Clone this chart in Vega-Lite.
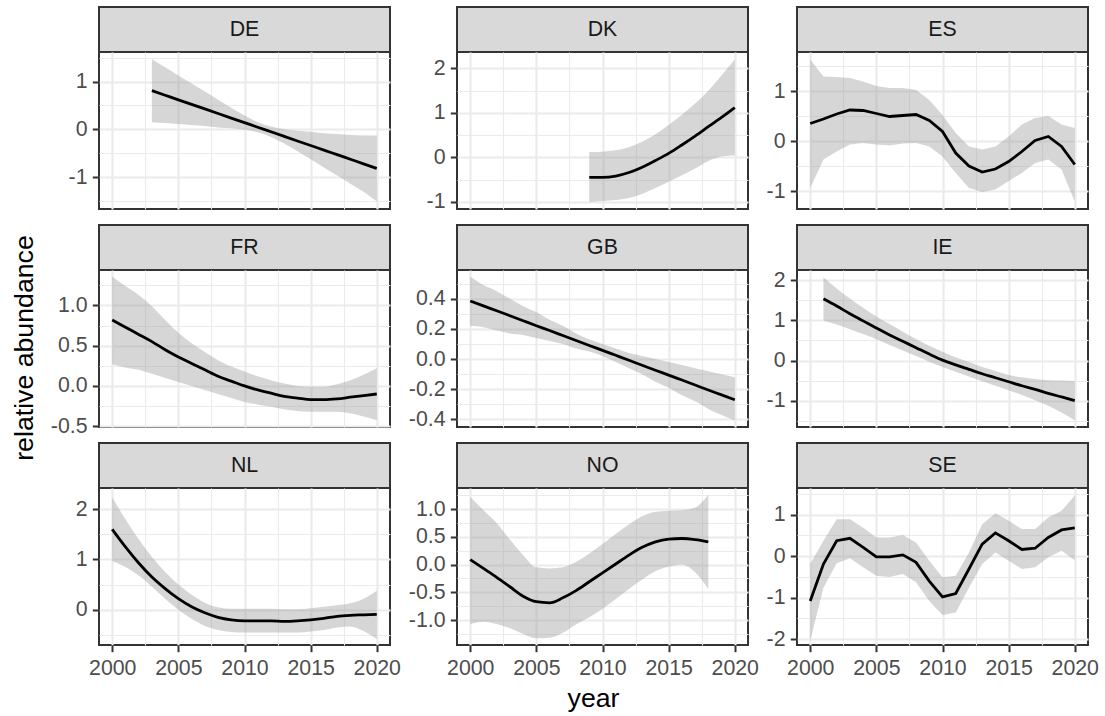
{
"$schema": "https://vega.github.io/schema/vega-lite/v6.json",
"padding": {"left": 5, "top": 6, "right": 5, "bottom": 0},
"background": "white",
"datasets": {"sm": [
{"c":"DE","year":2003,"fit":0.81,"lo":0.15,"hi":1.47},
{"c":"DE","year":2004,"fit":0.714,"lo":0.13,"hi":1.30},
{"c":"DE","year":2005,"fit":0.618,"lo":0.11,"hi":1.13},
{"c":"DE","year":2006,"fit":0.523,"lo":0.09,"hi":0.96},
{"c":"DE","year":2007,"fit":0.427,"lo":0.07,"hi":0.79},
{"c":"DE","year":2008,"fit":0.331,"lo":0.04,"hi":0.62},
{"c":"DE","year":2009,"fit":0.235,"lo":0.02,"hi":0.45},
{"c":"DE","year":2010,"fit":0.139,"lo":-0.01,"hi":0.29},
{"c":"DE","year":2011,"fit":0.044,"lo":-0.06,"hi":0.15},
{"c":"DE","year":2012,"fit":-0.052,"lo":-0.16,"hi":0.06},
{"c":"DE","year":2013,"fit":-0.148,"lo":-0.30,"hi":0.00},
{"c":"DE","year":2014,"fit":-0.244,"lo":-0.46,"hi":-0.03},
{"c":"DE","year":2015,"fit":-0.340,"lo":-0.63,"hi":-0.05},
{"c":"DE","year":2016,"fit":-0.435,"lo":-0.80,"hi":-0.08},
{"c":"DE","year":2017,"fit":-0.531,"lo":-0.97,"hi":-0.10},
{"c":"DE","year":2018,"fit":-0.627,"lo":-1.14,"hi":-0.12},
{"c":"DE","year":2019,"fit":-0.723,"lo":-1.31,"hi":-0.13},
{"c":"DE","year":2020,"fit":-0.82,"lo":-1.51,"hi":-0.13},
{"c":"DK","year":2009,"fit":-0.45,"lo":-1.00,"hi":0.12},
{"c":"DK","year":2010,"fit":-0.45,"lo":-0.98,"hi":0.13},
{"c":"DK","year":2011,"fit":-0.42,"lo":-0.96,"hi":0.16},
{"c":"DK","year":2012,"fit":-0.34,"lo":-0.91,"hi":0.23},
{"c":"DK","year":2013,"fit":-0.22,"lo":-0.82,"hi":0.35},
{"c":"DK","year":2014,"fit":-0.07,"lo":-0.69,"hi":0.52},
{"c":"DK","year":2015,"fit":0.09,"lo":-0.55,"hi":0.73},
{"c":"DK","year":2016,"fit":0.28,"lo":-0.40,"hi":0.96},
{"c":"DK","year":2017,"fit":0.48,"lo":-0.25,"hi":1.21},
{"c":"DK","year":2018,"fit":0.69,"lo":-0.08,"hi":1.50},
{"c":"DK","year":2019,"fit":0.90,"lo":0.02,"hi":1.84},
{"c":"DK","year":2020,"fit":1.12,"lo":0.05,"hi":2.20},
{"c":"ES","year":2000,"fit":0.35,"lo":-0.94,"hi":1.63},
{"c":"ES","year":2001,"fit":0.44,"lo":-0.37,"hi":1.29},
{"c":"ES","year":2002,"fit":0.54,"lo":-0.21,"hi":1.28},
{"c":"ES","year":2003,"fit":0.62,"lo":-0.07,"hi":1.26},
{"c":"ES","year":2004,"fit":0.61,"lo":-0.04,"hi":1.19},
{"c":"ES","year":2005,"fit":0.55,"lo":-0.07,"hi":1.10},
{"c":"ES","year":2006,"fit":0.49,"lo":-0.09,"hi":1.06},
{"c":"ES","year":2007,"fit":0.51,"lo":-0.05,"hi":1.06},
{"c":"ES","year":2008,"fit":0.53,"lo":-0.04,"hi":1.02},
{"c":"ES","year":2009,"fit":0.41,"lo":-0.11,"hi":0.82},
{"c":"ES","year":2010,"fit":0.19,"lo":-0.31,"hi":0.52},
{"c":"ES","year":2011,"fit":-0.24,"lo":-0.64,"hi":0.16},
{"c":"ES","year":2012,"fit":-0.50,"lo":-0.94,"hi":-0.11},
{"c":"ES","year":2013,"fit":-0.62,"lo":-1.02,"hi":-0.17},
{"c":"ES","year":2014,"fit":-0.56,"lo":-0.97,"hi":-0.11},
{"c":"ES","year":2015,"fit":-0.41,"lo":-0.80,"hi":0.09},
{"c":"ES","year":2016,"fit":-0.21,"lo":-0.64,"hi":0.33},
{"c":"ES","year":2017,"fit":0.01,"lo":-0.44,"hi":0.46},
{"c":"ES","year":2018,"fit":0.09,"lo":-0.37,"hi":0.50},
{"c":"ES","year":2019,"fit":-0.11,"lo":-0.57,"hi":0.33},
{"c":"ES","year":2020,"fit":-0.47,"lo":-1.21,"hi":0.26},
{"c":"FR","year":2000,"fit":0.82,"lo":0.27,"hi":1.36},
{"c":"FR","year":2001,"fit":0.73,"lo":0.23,"hi":1.24},
{"c":"FR","year":2002,"fit":0.64,"lo":0.20,"hi":1.13},
{"c":"FR","year":2003,"fit":0.55,"lo":0.15,"hi":0.99},
{"c":"FR","year":2004,"fit":0.45,"lo":0.10,"hi":0.82},
{"c":"FR","year":2005,"fit":0.36,"lo":0.05,"hi":0.66},
{"c":"FR","year":2006,"fit":0.28,"lo":0.00,"hi":0.53},
{"c":"FR","year":2007,"fit":0.20,"lo":-0.05,"hi":0.42},
{"c":"FR","year":2008,"fit":0.12,"lo":-0.10,"hi":0.32},
{"c":"FR","year":2009,"fit":0.06,"lo":-0.15,"hi":0.24},
{"c":"FR","year":2010,"fit":0.00,"lo":-0.20,"hi":0.18},
{"c":"FR","year":2011,"fit":-0.05,"lo":-0.23,"hi":0.12},
{"c":"FR","year":2012,"fit":-0.09,"lo":-0.26,"hi":0.07},
{"c":"FR","year":2013,"fit":-0.13,"lo":-0.29,"hi":0.03},
{"c":"FR","year":2014,"fit":-0.15,"lo":-0.31,"hi":0.00},
{"c":"FR","year":2015,"fit":-0.17,"lo":-0.32,"hi":-0.01},
{"c":"FR","year":2016,"fit":-0.17,"lo":-0.32,"hi":-0.01},
{"c":"FR","year":2017,"fit":-0.16,"lo":-0.32,"hi":0.02},
{"c":"FR","year":2018,"fit":-0.14,"lo":-0.34,"hi":0.07},
{"c":"FR","year":2019,"fit":-0.12,"lo":-0.38,"hi":0.14},
{"c":"FR","year":2020,"fit":-0.10,"lo":-0.425,"hi":0.22},
{"c":"GB","year":2000,"fit":0.385,"lo":0.22,"hi":0.547},
{"c":"GB","year":2001,"fit":0.352,"lo":0.21,"hi":0.49},
{"c":"GB","year":2002,"fit":0.320,"lo":0.19,"hi":0.45},
{"c":"GB","year":2003,"fit":0.287,"lo":0.17,"hi":0.40},
{"c":"GB","year":2004,"fit":0.254,"lo":0.16,"hi":0.35},
{"c":"GB","year":2005,"fit":0.221,"lo":0.14,"hi":0.31},
{"c":"GB","year":2006,"fit":0.189,"lo":0.12,"hi":0.26},
{"c":"GB","year":2007,"fit":0.156,"lo":0.10,"hi":0.22},
{"c":"GB","year":2008,"fit":0.123,"lo":0.07,"hi":0.17},
{"c":"GB","year":2009,"fit":0.090,"lo":0.05,"hi":0.13},
{"c":"GB","year":2010,"fit":0.058,"lo":0.02,"hi":0.10},
{"c":"GB","year":2011,"fit":0.025,"lo":-0.02,"hi":0.07},
{"c":"GB","year":2012,"fit":-0.008,"lo":-0.06,"hi":0.04},
{"c":"GB","year":2013,"fit":-0.041,"lo":-0.10,"hi":0.02},
{"c":"GB","year":2014,"fit":-0.074,"lo":-0.15,"hi":0.00},
{"c":"GB","year":2015,"fit":-0.106,"lo":-0.19,"hi":-0.02},
{"c":"GB","year":2016,"fit":-0.139,"lo":-0.24,"hi":-0.04},
{"c":"GB","year":2017,"fit":-0.172,"lo":-0.28,"hi":-0.06},
{"c":"GB","year":2018,"fit":-0.205,"lo":-0.33,"hi":-0.08},
{"c":"GB","year":2019,"fit":-0.237,"lo":-0.37,"hi":-0.10},
{"c":"GB","year":2020,"fit":-0.27,"lo":-0.405,"hi":-0.12},
{"c":"IE","year":2001,"fit":1.54,"lo":1.00,"hi":2.08},
{"c":"IE","year":2002,"fit":1.36,"lo":0.90,"hi":1.80},
{"c":"IE","year":2003,"fit":1.17,"lo":0.78,"hi":1.55},
{"c":"IE","year":2004,"fit":0.99,"lo":0.66,"hi":1.32},
{"c":"IE","year":2005,"fit":0.81,"lo":0.53,"hi":1.10},
{"c":"IE","year":2006,"fit":0.64,"lo":0.39,"hi":0.91},
{"c":"IE","year":2007,"fit":0.48,"lo":0.25,"hi":0.72},
{"c":"IE","year":2008,"fit":0.32,"lo":0.11,"hi":0.54},
{"c":"IE","year":2009,"fit":0.16,"lo":-0.03,"hi":0.37},
{"c":"IE","year":2010,"fit":0.01,"lo":-0.16,"hi":0.22},
{"c":"IE","year":2011,"fit":-0.11,"lo":-0.28,"hi":0.08},
{"c":"IE","year":2012,"fit":-0.22,"lo":-0.40,"hi":-0.04},
{"c":"IE","year":2013,"fit":-0.33,"lo":-0.52,"hi":-0.16},
{"c":"IE","year":2014,"fit":-0.43,"lo":-0.63,"hi":-0.26},
{"c":"IE","year":2015,"fit":-0.53,"lo":-0.74,"hi":-0.36},
{"c":"IE","year":2016,"fit":-0.63,"lo":-0.86,"hi":-0.42},
{"c":"IE","year":2017,"fit":-0.72,"lo":-0.99,"hi":-0.46},
{"c":"IE","year":2018,"fit":-0.82,"lo":-1.13,"hi":-0.49},
{"c":"IE","year":2019,"fit":-0.91,"lo":-1.30,"hi":-0.50},
{"c":"IE","year":2020,"fit":-1.00,"lo":-1.49,"hi":-0.51},
{"c":"NL","year":2000,"fit":1.60,"lo":0.97,"hi":2.23},
{"c":"NL","year":2001,"fit":1.25,"lo":0.85,"hi":1.80},
{"c":"NL","year":2002,"fit":0.93,"lo":0.68,"hi":1.40},
{"c":"NL","year":2003,"fit":0.65,"lo":0.46,"hi":1.05},
{"c":"NL","year":2004,"fit":0.42,"lo":0.22,"hi":0.75},
{"c":"NL","year":2005,"fit":0.22,"lo":0.00,"hi":0.50},
{"c":"NL","year":2006,"fit":0.06,"lo":-0.18,"hi":0.30},
{"c":"NL","year":2007,"fit":-0.06,"lo":-0.32,"hi":0.14},
{"c":"NL","year":2008,"fit":-0.15,"lo":-0.40,"hi":0.05},
{"c":"NL","year":2009,"fit":-0.20,"lo":-0.44,"hi":0.02},
{"c":"NL","year":2010,"fit":-0.22,"lo":-0.45,"hi":0.02},
{"c":"NL","year":2011,"fit":-0.22,"lo":-0.45,"hi":0.02},
{"c":"NL","year":2012,"fit":-0.22,"lo":-0.45,"hi":0.02},
{"c":"NL","year":2013,"fit":-0.23,"lo":-0.45,"hi":0.01},
{"c":"NL","year":2014,"fit":-0.22,"lo":-0.45,"hi":0.01},
{"c":"NL","year":2015,"fit":-0.20,"lo":-0.43,"hi":0.03},
{"c":"NL","year":2016,"fit":-0.17,"lo":-0.40,"hi":0.06},
{"c":"NL","year":2017,"fit":-0.13,"lo":-0.35,"hi":0.09},
{"c":"NL","year":2018,"fit":-0.11,"lo":-0.33,"hi":0.13},
{"c":"NL","year":2019,"fit":-0.10,"lo":-0.42,"hi":0.22},
{"c":"NL","year":2020,"fit":-0.09,"lo":-0.58,"hi":0.38},
{"c":"NO","year":2000,"fit":0.09,"lo":-1.07,"hi":1.22},
{"c":"NO","year":2001,"fit":-0.07,"lo":-1.03,"hi":0.98},
{"c":"NO","year":2002,"fit":-0.23,"lo":-1.07,"hi":0.75},
{"c":"NO","year":2003,"fit":-0.40,"lo":-1.15,"hi":0.45},
{"c":"NO","year":2004,"fit":-0.57,"lo":-1.25,"hi":0.17},
{"c":"NO","year":2005,"fit":-0.67,"lo":-1.33,"hi":-0.05},
{"c":"NO","year":2006,"fit":-0.69,"lo":-1.32,"hi":-0.07},
{"c":"NO","year":2007,"fit":-0.60,"lo":-1.23,"hi":-0.05},
{"c":"NO","year":2008,"fit":-0.47,"lo":-1.08,"hi":0.05},
{"c":"NO","year":2009,"fit":-0.31,"lo":-0.95,"hi":0.20},
{"c":"NO","year":2010,"fit":-0.15,"lo":-0.80,"hi":0.37},
{"c":"NO","year":2011,"fit":0.01,"lo":-0.62,"hi":0.55},
{"c":"NO","year":2012,"fit":0.17,"lo":-0.44,"hi":0.72},
{"c":"NO","year":2013,"fit":0.31,"lo":-0.27,"hi":0.87},
{"c":"NO","year":2014,"fit":0.41,"lo":-0.12,"hi":0.95},
{"c":"NO","year":2015,"fit":0.46,"lo":-0.04,"hi":0.97},
{"c":"NO","year":2016,"fit":0.47,"lo":0.00,"hi":0.98},
{"c":"NO","year":2017,"fit":0.45,"lo":-0.14,"hi":1.03},
{"c":"NO","year":2018,"fit":0.41,"lo":-0.44,"hi":1.26},
{"c":"SE","year":2000,"fit":-1.08,"lo":-2.03,"hi":-0.19},
{"c":"SE","year":2001,"fit":-0.19,"lo":-0.76,"hi":0.37},
{"c":"SE","year":2002,"fit":0.37,"lo":-0.17,"hi":0.89},
{"c":"SE","year":2003,"fit":0.43,"lo":-0.05,"hi":0.89},
{"c":"SE","year":2004,"fit":0.21,"lo":-0.27,"hi":0.68},
{"c":"SE","year":2005,"fit":-0.02,"lo":-0.47,"hi":0.45},
{"c":"SE","year":2006,"fit":-0.02,"lo":-0.50,"hi":0.45},
{"c":"SE","year":2007,"fit":0.03,"lo":-0.43,"hi":0.51},
{"c":"SE","year":2008,"fit":-0.15,"lo":-0.63,"hi":0.33},
{"c":"SE","year":2009,"fit":-0.60,"lo":-1.08,"hi":-0.11},
{"c":"SE","year":2010,"fit":-0.98,"lo":-1.42,"hi":-0.51},
{"c":"SE","year":2011,"fit":-0.90,"lo":-1.36,"hi":-0.47},
{"c":"SE","year":2012,"fit":-0.31,"lo":-0.76,"hi":0.09},
{"c":"SE","year":2013,"fit":0.29,"lo":-0.19,"hi":0.77},
{"c":"SE","year":2014,"fit":0.56,"lo":0.09,"hi":1.03},
{"c":"SE","year":2015,"fit":0.37,"lo":-0.11,"hi":0.85},
{"c":"SE","year":2016,"fit":0.16,"lo":-0.31,"hi":0.65},
{"c":"SE","year":2017,"fit":0.19,"lo":-0.27,"hi":0.65},
{"c":"SE","year":2018,"fit":0.45,"lo":-0.03,"hi":0.93},
{"c":"SE","year":2019,"fit":0.63,"lo":0.13,"hi":1.09},
{"c":"SE","year":2020,"fit":0.68,"lo":-0.10,"hi":1.46}
]},
"spacing": 5,
"hconcat": [
{"width": 39, "height": 682, "data": {"values": [{"t": "relative abundance"}]}, "mark": {"type": "text", "angle": 270, "fontSize": 26.7, "color": "#000000", "baseline": "middle", "align": "center"}, "encoding": {"text": {"field": "t"}}, "view": {"stroke": null}},
{"spacing": 0, "bounds": "flush", "vconcat": [
 {"width": 291, "height": 45, "data": {"values": [{"c": "DE"}]}, "mark": {"type": "text", "fontSize": 21.3, "color": "#1a1a1a"}, "encoding": {"text": {"field": "c"}}, "view": {"fill": "#d9d9d9", "stroke": "#333333", "strokeWidth": 2}},
 {"width": 291, "height": 157, "data": {"name": "sm"}, "transform": [{"filter": "datum.c === 'DE'"}],
  "encoding": {
   "x": {"field": "year", "type": "quantitative", "scale": {"domain": [1999, 2021], "nice": false, "zero": false},
         "axis": {"values": [2000, 2002.5, 2005, 2007.5, 2010, 2012.5, 2015, 2017.5, 2020], "labels": false, "ticks": false, "title": null, "gridWidth": {"condition": {"test": "datum.value % 5 === 0", "value": 2.2}, "value": 1.1}}}
  },
  "layer": [
   {"mark": {"type": "area", "color": "#999999", "opacity": 0.4, "interpolate": "monotone"}, "encoding": {"y": {"field": "lo", "type": "quantitative", "scale": {"domain": [-1.67, 1.62], "nice": false, "zero": false},
         "axis": {"title": null, "values": [-1.5, -1, -0.5, 0, 0.5, 1, 1.5], "format": ".0f", "labelExpr": "datum.value % 1 === 0 ? datum.label : ''", "tickColor": {"condition": {"test": "datum.value % 1 === 0", "value": "#333333"}, "value": "transparent"}, "gridWidth": {"condition": {"test": "datum.value % 1 === 0", "value": 2.2}, "value": 1.1}}}, "y2": {"field": "hi"}}},
   {"mark": {"type": "line", "color": "#000000", "strokeWidth": 2.8, "interpolate": "monotone"}, "encoding": {"y": {"field": "fit", "type": "quantitative", "scale": {"domain": [-1.67, 1.62], "nice": false, "zero": false},
         "axis": {"title": null, "values": [-1.5, -1, -0.5, 0, 0.5, 1, 1.5], "format": ".0f", "labelExpr": "datum.value % 1 === 0 ? datum.label : ''", "tickColor": {"condition": {"test": "datum.value % 1 === 0", "value": "#333333"}, "value": "transparent"}, "gridWidth": {"condition": {"test": "datum.value % 1 === 0", "value": 2.2}, "value": 1.1}}}}}
  ]},
 {"width": 291, "height": 16, "data": {"values": []}, "mark": "text", "encoding": {}, "view": {"stroke": null}},
 {"width": 291, "height": 45, "data": {"values": [{"c": "FR"}]}, "mark": {"type": "text", "fontSize": 21.3, "color": "#1a1a1a"}, "encoding": {"text": {"field": "c"}}, "view": {"fill": "#d9d9d9", "stroke": "#333333", "strokeWidth": 2}},
 {"width": 291, "height": 157, "data": {"name": "sm"}, "transform": [{"filter": "datum.c === 'FR'"}],
  "encoding": {
   "x": {"field": "year", "type": "quantitative", "scale": {"domain": [1999, 2021], "nice": false, "zero": false},
         "axis": {"values": [2000, 2002.5, 2005, 2007.5, 2010, 2012.5, 2015, 2017.5, 2020], "labels": false, "ticks": false, "title": null, "gridWidth": {"condition": {"test": "datum.value % 5 === 0", "value": 2.2}, "value": 1.1}}}
  },
  "layer": [
   {"mark": {"type": "area", "color": "#999999", "opacity": 0.4, "interpolate": "monotone"}, "encoding": {"y": {"field": "lo", "type": "quantitative", "scale": {"domain": [-0.51, 1.44], "nice": false, "zero": false},
         "axis": {"title": null, "values": [-0.5, -0.25, 0, 0.25, 0.5, 0.75, 1, 1.25], "format": ".1f", "labelExpr": "datum.value % 0.5 === 0 ? datum.label : ''", "tickColor": {"condition": {"test": "datum.value % 0.5 === 0", "value": "#333333"}, "value": "transparent"}, "gridWidth": {"condition": {"test": "datum.value % 0.5 === 0", "value": 2.2}, "value": 1.1}}}, "y2": {"field": "hi"}}},
   {"mark": {"type": "line", "color": "#000000", "strokeWidth": 2.8, "interpolate": "monotone"}, "encoding": {"y": {"field": "fit", "type": "quantitative", "scale": {"domain": [-0.51, 1.44], "nice": false, "zero": false},
         "axis": {"title": null, "values": [-0.5, -0.25, 0, 0.25, 0.5, 0.75, 1, 1.25], "format": ".1f", "labelExpr": "datum.value % 0.5 === 0 ? datum.label : ''", "tickColor": {"condition": {"test": "datum.value % 0.5 === 0", "value": "#333333"}, "value": "transparent"}, "gridWidth": {"condition": {"test": "datum.value % 0.5 === 0", "value": 2.2}, "value": 1.1}}}}}
  ]},
 {"width": 291, "height": 16, "data": {"values": []}, "mark": "text", "encoding": {}, "view": {"stroke": null}},
 {"width": 291, "height": 45, "data": {"values": [{"c": "NL"}]}, "mark": {"type": "text", "fontSize": 21.3, "color": "#1a1a1a"}, "encoding": {"text": {"field": "c"}}, "view": {"fill": "#d9d9d9", "stroke": "#333333", "strokeWidth": 2}},
 {"width": 291, "height": 157, "data": {"name": "sm"}, "transform": [{"filter": "datum.c === 'NL'"}],
  "encoding": {
   "x": {"field": "year", "type": "quantitative", "scale": {"domain": [1999, 2021], "nice": false, "zero": false},
         "axis": {"values": [2000, 2002.5, 2005, 2007.5, 2010, 2012.5, 2015, 2017.5, 2020], "format": "d", "labelExpr": "datum.value % 5 === 0 ? datum.label : ''", "title": null, "tickColor": {"condition": {"test": "datum.value % 5 === 0", "value": "#333333"}, "value": "transparent"}, "gridWidth": {"condition": {"test": "datum.value % 5 === 0", "value": 2.2}, "value": 1.1}}}
  },
  "layer": [
   {"mark": {"type": "area", "color": "#999999", "opacity": 0.4, "interpolate": "monotone"}, "encoding": {"y": {"field": "lo", "type": "quantitative", "scale": {"domain": [-0.70, 2.42], "nice": false, "zero": false},
         "axis": {"title": null, "values": [-0.5, 0, 0.5, 1, 1.5, 2], "format": ".0f", "labelExpr": "datum.value % 1 === 0 ? datum.label : ''", "tickColor": {"condition": {"test": "datum.value % 1 === 0", "value": "#333333"}, "value": "transparent"}, "gridWidth": {"condition": {"test": "datum.value % 1 === 0", "value": 2.2}, "value": 1.1}}}, "y2": {"field": "hi"}}},
   {"mark": {"type": "line", "color": "#000000", "strokeWidth": 2.8, "interpolate": "monotone"}, "encoding": {"y": {"field": "fit", "type": "quantitative", "scale": {"domain": [-0.70, 2.42], "nice": false, "zero": false},
         "axis": {"title": null, "values": [-0.5, 0, 0.5, 1, 1.5, 2], "format": ".0f", "labelExpr": "datum.value % 1 === 0 ? datum.label : ''", "tickColor": {"condition": {"test": "datum.value % 1 === 0", "value": "#333333"}, "value": "transparent"}, "gridWidth": {"condition": {"test": "datum.value % 1 === 0", "value": 2.2}, "value": 1.1}}}}}
  ]}
]},
{"spacing": 0, "bounds": "flush", "vconcat": [
 {"width": 291, "height": 45, "data": {"values": [{"c": "DK"}]}, "mark": {"type": "text", "fontSize": 21.3, "color": "#1a1a1a"}, "encoding": {"text": {"field": "c"}}, "view": {"fill": "#d9d9d9", "stroke": "#333333", "strokeWidth": 2}},
 {"width": 291, "height": 157, "data": {"name": "sm"}, "transform": [{"filter": "datum.c === 'DK'"}],
  "encoding": {
   "x": {"field": "year", "type": "quantitative", "scale": {"domain": [1999, 2021], "nice": false, "zero": false},
         "axis": {"values": [2000, 2002.5, 2005, 2007.5, 2010, 2012.5, 2015, 2017.5, 2020], "labels": false, "ticks": false, "title": null, "gridWidth": {"condition": {"test": "datum.value % 5 === 0", "value": 2.2}, "value": 1.1}}}
  },
  "layer": [
   {"mark": {"type": "area", "color": "#999999", "opacity": 0.4, "interpolate": "monotone"}, "encoding": {"y": {"field": "lo", "type": "quantitative", "scale": {"domain": [-1.16, 2.37], "nice": false, "zero": false},
         "axis": {"title": null, "values": [-1, -0.5, 0, 0.5, 1, 1.5, 2], "format": ".0f", "labelExpr": "datum.value % 1 === 0 ? datum.label : ''", "tickColor": {"condition": {"test": "datum.value % 1 === 0", "value": "#333333"}, "value": "transparent"}, "gridWidth": {"condition": {"test": "datum.value % 1 === 0", "value": 2.2}, "value": 1.1}}}, "y2": {"field": "hi"}}},
   {"mark": {"type": "line", "color": "#000000", "strokeWidth": 2.8, "interpolate": "monotone"}, "encoding": {"y": {"field": "fit", "type": "quantitative", "scale": {"domain": [-1.16, 2.37], "nice": false, "zero": false},
         "axis": {"title": null, "values": [-1, -0.5, 0, 0.5, 1, 1.5, 2], "format": ".0f", "labelExpr": "datum.value % 1 === 0 ? datum.label : ''", "tickColor": {"condition": {"test": "datum.value % 1 === 0", "value": "#333333"}, "value": "transparent"}, "gridWidth": {"condition": {"test": "datum.value % 1 === 0", "value": 2.2}, "value": 1.1}}}}}
  ]},
 {"width": 291, "height": 16, "data": {"values": []}, "mark": "text", "encoding": {}, "view": {"stroke": null}},
 {"width": 291, "height": 45, "data": {"values": [{"c": "GB"}]}, "mark": {"type": "text", "fontSize": 21.3, "color": "#1a1a1a"}, "encoding": {"text": {"field": "c"}}, "view": {"fill": "#d9d9d9", "stroke": "#333333", "strokeWidth": 2}},
 {"width": 291, "height": 157, "data": {"name": "sm"}, "transform": [{"filter": "datum.c === 'GB'"}],
  "encoding": {
   "x": {"field": "year", "type": "quantitative", "scale": {"domain": [1999, 2021], "nice": false, "zero": false},
         "axis": {"values": [2000, 2002.5, 2005, 2007.5, 2010, 2012.5, 2015, 2017.5, 2020], "labels": false, "ticks": false, "title": null, "gridWidth": {"condition": {"test": "datum.value % 5 === 0", "value": 2.2}, "value": 1.1}}}
  },
  "layer": [
   {"mark": {"type": "area", "color": "#999999", "opacity": 0.4, "interpolate": "monotone"}, "encoding": {"y": {"field": "lo", "type": "quantitative", "scale": {"domain": [-0.45, 0.59], "nice": false, "zero": false},
         "axis": {"title": null, "values": [-0.4, -0.3, -0.2, -0.1, 0, 0.1, 0.2, 0.3, 0.4, 0.5], "format": ".1f", "labelExpr": "indexof([-0.4, -0.2, 0, 0.2, 0.4], datum.value) >= 0 ? datum.label : ''", "tickColor": {"condition": {"test": "indexof([-0.4, -0.2, 0, 0.2, 0.4], datum.value) >= 0", "value": "#333333"}, "value": "transparent"}, "gridWidth": {"condition": {"test": "indexof([-0.4, -0.2, 0, 0.2, 0.4], datum.value) >= 0", "value": 2.2}, "value": 1.1}}}, "y2": {"field": "hi"}}},
   {"mark": {"type": "line", "color": "#000000", "strokeWidth": 2.8, "interpolate": "monotone"}, "encoding": {"y": {"field": "fit", "type": "quantitative", "scale": {"domain": [-0.45, 0.59], "nice": false, "zero": false},
         "axis": {"title": null, "values": [-0.4, -0.3, -0.2, -0.1, 0, 0.1, 0.2, 0.3, 0.4, 0.5], "format": ".1f", "labelExpr": "indexof([-0.4, -0.2, 0, 0.2, 0.4], datum.value) >= 0 ? datum.label : ''", "tickColor": {"condition": {"test": "indexof([-0.4, -0.2, 0, 0.2, 0.4], datum.value) >= 0", "value": "#333333"}, "value": "transparent"}, "gridWidth": {"condition": {"test": "indexof([-0.4, -0.2, 0, 0.2, 0.4], datum.value) >= 0", "value": 2.2}, "value": 1.1}}}}}
  ]},
 {"width": 291, "height": 16, "data": {"values": []}, "mark": "text", "encoding": {}, "view": {"stroke": null}},
 {"width": 291, "height": 45, "data": {"values": [{"c": "NO"}]}, "mark": {"type": "text", "fontSize": 21.3, "color": "#1a1a1a"}, "encoding": {"text": {"field": "c"}}, "view": {"fill": "#d9d9d9", "stroke": "#333333", "strokeWidth": 2}},
 {"width": 291, "height": 157, "data": {"name": "sm"}, "transform": [{"filter": "datum.c === 'NO'"}],
  "encoding": {
   "x": {"field": "year", "type": "quantitative", "scale": {"domain": [1999, 2021], "nice": false, "zero": false},
         "axis": {"values": [2000, 2002.5, 2005, 2007.5, 2010, 2012.5, 2015, 2017.5, 2020], "format": "d", "labelExpr": "datum.value % 5 === 0 ? datum.label : ''", "title": "year", "titlePadding": 7, "titleX": 136, "tickColor": {"condition": {"test": "datum.value % 5 === 0", "value": "#333333"}, "value": "transparent"}, "gridWidth": {"condition": {"test": "datum.value % 5 === 0", "value": 2.2}, "value": 1.1}}}
  },
  "layer": [
   {"mark": {"type": "area", "color": "#999999", "opacity": 0.4, "interpolate": "monotone"}, "encoding": {"y": {"field": "lo", "type": "quantitative", "scale": {"domain": [-1.45, 1.38], "nice": false, "zero": false},
         "axis": {"title": null, "values": [-1.25, -1, -0.75, -0.5, -0.25, 0, 0.25, 0.5, 0.75, 1, 1.25], "format": ".1f", "labelExpr": "datum.value % 0.5 === 0 ? datum.label : ''", "tickColor": {"condition": {"test": "datum.value % 0.5 === 0", "value": "#333333"}, "value": "transparent"}, "gridWidth": {"condition": {"test": "datum.value % 0.5 === 0", "value": 2.2}, "value": 1.1}}}, "y2": {"field": "hi"}}},
   {"mark": {"type": "line", "color": "#000000", "strokeWidth": 2.8, "interpolate": "monotone"}, "encoding": {"y": {"field": "fit", "type": "quantitative", "scale": {"domain": [-1.45, 1.38], "nice": false, "zero": false},
         "axis": {"title": null, "values": [-1.25, -1, -0.75, -0.5, -0.25, 0, 0.25, 0.5, 0.75, 1, 1.25], "format": ".1f", "labelExpr": "datum.value % 0.5 === 0 ? datum.label : ''", "tickColor": {"condition": {"test": "datum.value % 0.5 === 0", "value": "#333333"}, "value": "transparent"}, "gridWidth": {"condition": {"test": "datum.value % 0.5 === 0", "value": 2.2}, "value": 1.1}}}}}
  ]}
]},
{"spacing": 0, "bounds": "flush", "vconcat": [
 {"width": 291, "height": 45, "data": {"values": [{"c": "ES"}]}, "mark": {"type": "text", "fontSize": 21.3, "color": "#1a1a1a"}, "encoding": {"text": {"field": "c"}}, "view": {"fill": "#d9d9d9", "stroke": "#333333", "strokeWidth": 2}},
 {"width": 291, "height": 157, "data": {"name": "sm"}, "transform": [{"filter": "datum.c === 'ES'"}],
  "encoding": {
   "x": {"field": "year", "type": "quantitative", "scale": {"domain": [1999, 2021], "nice": false, "zero": false},
         "axis": {"values": [2000, 2002.5, 2005, 2007.5, 2010, 2012.5, 2015, 2017.5, 2020], "labels": false, "ticks": false, "title": null, "gridWidth": {"condition": {"test": "datum.value % 5 === 0", "value": 2.2}, "value": 1.1}}}
  },
  "layer": [
   {"mark": {"type": "area", "color": "#999999", "opacity": 0.4}, "encoding": {"y": {"field": "lo", "type": "quantitative", "scale": {"domain": [-1.36, 1.78], "nice": false, "zero": false},
         "axis": {"title": null, "values": [-1, -0.5, 0, 0.5, 1, 1.5], "format": ".0f", "labelExpr": "datum.value % 1 === 0 ? datum.label : ''", "tickColor": {"condition": {"test": "datum.value % 1 === 0", "value": "#333333"}, "value": "transparent"}, "gridWidth": {"condition": {"test": "datum.value % 1 === 0", "value": 2.2}, "value": 1.1}}}, "y2": {"field": "hi"}}},
   {"mark": {"type": "line", "color": "#000000", "strokeWidth": 2.8}, "encoding": {"y": {"field": "fit", "type": "quantitative", "scale": {"domain": [-1.36, 1.78], "nice": false, "zero": false},
         "axis": {"title": null, "values": [-1, -0.5, 0, 0.5, 1, 1.5], "format": ".0f", "labelExpr": "datum.value % 1 === 0 ? datum.label : ''", "tickColor": {"condition": {"test": "datum.value % 1 === 0", "value": "#333333"}, "value": "transparent"}, "gridWidth": {"condition": {"test": "datum.value % 1 === 0", "value": 2.2}, "value": 1.1}}}}}
  ]},
 {"width": 291, "height": 16, "data": {"values": []}, "mark": "text", "encoding": {}, "view": {"stroke": null}},
 {"width": 291, "height": 45, "data": {"values": [{"c": "IE"}]}, "mark": {"type": "text", "fontSize": 21.3, "color": "#1a1a1a"}, "encoding": {"text": {"field": "c"}}, "view": {"fill": "#d9d9d9", "stroke": "#333333", "strokeWidth": 2}},
 {"width": 291, "height": 157, "data": {"name": "sm"}, "transform": [{"filter": "datum.c === 'IE'"}],
  "encoding": {
   "x": {"field": "year", "type": "quantitative", "scale": {"domain": [1999, 2021], "nice": false, "zero": false},
         "axis": {"values": [2000, 2002.5, 2005, 2007.5, 2010, 2012.5, 2015, 2017.5, 2020], "labels": false, "ticks": false, "title": null, "gridWidth": {"condition": {"test": "datum.value % 5 === 0", "value": 2.2}, "value": 1.1}}}
  },
  "layer": [
   {"mark": {"type": "area", "color": "#999999", "opacity": 0.4, "interpolate": "monotone"}, "encoding": {"y": {"field": "lo", "type": "quantitative", "scale": {"domain": [-1.66, 2.26], "nice": false, "zero": false},
         "axis": {"title": null, "values": [-1.5, -1, -0.5, 0, 0.5, 1, 1.5, 2], "format": ".0f", "labelExpr": "datum.value % 1 === 0 ? datum.label : ''", "tickColor": {"condition": {"test": "datum.value % 1 === 0", "value": "#333333"}, "value": "transparent"}, "gridWidth": {"condition": {"test": "datum.value % 1 === 0", "value": 2.2}, "value": 1.1}}}, "y2": {"field": "hi"}}},
   {"mark": {"type": "line", "color": "#000000", "strokeWidth": 2.8, "interpolate": "monotone"}, "encoding": {"y": {"field": "fit", "type": "quantitative", "scale": {"domain": [-1.66, 2.26], "nice": false, "zero": false},
         "axis": {"title": null, "values": [-1.5, -1, -0.5, 0, 0.5, 1, 1.5, 2], "format": ".0f", "labelExpr": "datum.value % 1 === 0 ? datum.label : ''", "tickColor": {"condition": {"test": "datum.value % 1 === 0", "value": "#333333"}, "value": "transparent"}, "gridWidth": {"condition": {"test": "datum.value % 1 === 0", "value": 2.2}, "value": 1.1}}}}}
  ]},
 {"width": 291, "height": 16, "data": {"values": []}, "mark": "text", "encoding": {}, "view": {"stroke": null}},
 {"width": 291, "height": 45, "data": {"values": [{"c": "SE"}]}, "mark": {"type": "text", "fontSize": 21.3, "color": "#1a1a1a"}, "encoding": {"text": {"field": "c"}}, "view": {"fill": "#d9d9d9", "stroke": "#333333", "strokeWidth": 2}},
 {"width": 291, "height": 157, "data": {"name": "sm"}, "transform": [{"filter": "datum.c === 'SE'"}],
  "encoding": {
   "x": {"field": "year", "type": "quantitative", "scale": {"domain": [1999, 2021], "nice": false, "zero": false},
         "axis": {"values": [2000, 2002.5, 2005, 2007.5, 2010, 2012.5, 2015, 2017.5, 2020], "format": "d", "labelExpr": "datum.value % 5 === 0 ? datum.label : ''", "title": null, "tickColor": {"condition": {"test": "datum.value % 5 === 0", "value": "#333333"}, "value": "transparent"}, "gridWidth": {"condition": {"test": "datum.value % 5 === 0", "value": 2.2}, "value": 1.1}}}
  },
  "layer": [
   {"mark": {"type": "area", "color": "#999999", "opacity": 0.4}, "encoding": {"y": {"field": "lo", "type": "quantitative", "scale": {"domain": [-2.14, 1.64], "nice": false, "zero": false},
         "axis": {"title": null, "values": [-2, -1.5, -1, -0.5, 0, 0.5, 1, 1.5], "format": ".0f", "labelExpr": "datum.value % 1 === 0 ? datum.label : ''", "tickColor": {"condition": {"test": "datum.value % 1 === 0", "value": "#333333"}, "value": "transparent"}, "gridWidth": {"condition": {"test": "datum.value % 1 === 0", "value": 2.2}, "value": 1.1}}}, "y2": {"field": "hi"}}},
   {"mark": {"type": "line", "color": "#000000", "strokeWidth": 2.8}, "encoding": {"y": {"field": "fit", "type": "quantitative", "scale": {"domain": [-2.14, 1.64], "nice": false, "zero": false},
         "axis": {"title": null, "values": [-2, -1.5, -1, -0.5, 0, 0.5, 1, 1.5], "format": ".0f", "labelExpr": "datum.value % 1 === 0 ? datum.label : ''", "tickColor": {"condition": {"test": "datum.value % 1 === 0", "value": "#333333"}, "value": "transparent"}, "gridWidth": {"condition": {"test": "datum.value % 1 === 0", "value": 2.2}, "value": 1.1}}}}}
  ]}
]}
],
"config": {
 "locale": {"number": {"decimal": ".", "thousands": ",", "grouping": [3], "currency": ["$", ""], "minus": "-"}},
 "font": "Liberation Sans",
 "view": {"stroke": "#333333", "strokeWidth": 2},
 "axis": {"labelFont": "Liberation Sans", "labelFontSize": 21.3, "labelColor": "#4d4d4d", "tickSize": 6.7, "tickWidth": 2, "labelPadding": 5.3, "titleFont": "Liberation Sans", "titleFontSize": 26.7, "titleFontWeight": "normal", "titleColor": "#000000", "gridColor": "#ebebeb", "domain": false, "labelFlush": false, "labelOverlap": false}
}
}
